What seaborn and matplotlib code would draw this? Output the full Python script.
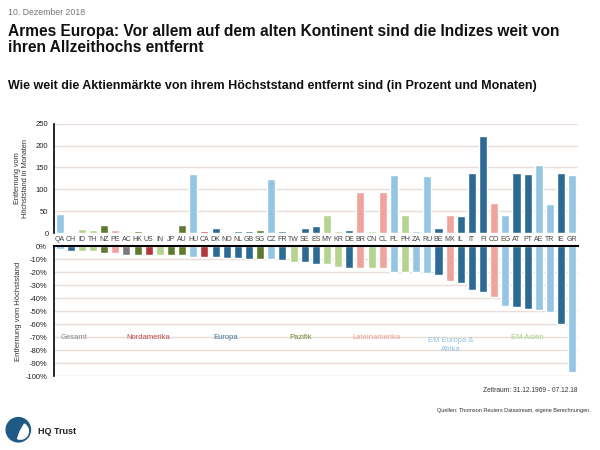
import numpy as np
import pandas as pd
import matplotlib
matplotlib.use("Agg")
import matplotlib.pyplot as plt
import seaborn as sns
from matplotlib.patches import Wedge, Circle

countries = ["QA", "CH", "ID", "TH", "NZ", "PE", "AC", "HK", "US", "IN", "JP", "AU",
             "HU", "CA", "DK", "NO", "NL", "GB", "SG", "CZ", "FR", "TW", "SE", "ES",
             "MY", "KR", "DE", "BR", "CN", "CL", "PL", "PH", "ZA", "RU", "BE", "MX",
             "IL", "IT", "FI", "CO", "EG", "AT", "PT", "AE", "TR", "IE", "GR"]
regions = ["EM Europa & Afrika", "Europa", "EM Asien", "EM Asien", "Pazifik", "Lateinamerika",
           "Gesamt", "Pazifik", "Nordamerika", "EM Asien", "Pazifik", "Pazifik",
           "EM Europa & Afrika", "Nordamerika", "Europa", "Europa", "Europa", "Europa",
           "Pazifik", "EM Europa & Afrika", "Europa", "EM Asien", "Europa", "Europa",
           "EM Asien", "EM Asien", "Europa", "Lateinamerika", "EM Asien", "Lateinamerika",
           "EM Europa & Afrika", "EM Asien", "EM Europa & Afrika", "EM Europa & Afrika",
           "Europa", "Lateinamerika", "Europa", "Europa", "Europa", "Lateinamerika",
           "EM Europa & Afrika", "Europa", "Europa", "EM Europa & Afrika",
           "EM Europa & Afrika", "Europa", "EM Europa & Afrika"]
months = [43, 2, 10, 7, 19, 6, 1, 5, 3, 3, 3, 19,
          136, 4, 12, 2, 4, 5, 6, 124, 4, 1, 12, 16,
          42, 4, 8, 94, 5, 94, 132, 42, 4, 131, 12, 42,
          39, 137, 223, 69, 42, 137, 136, 156, 67, 137, 132]
drawdown = [-2, -4, -4, -4, -5, -5, -7, -7, -7, -7, -7, -7,
            -8, -8, -8, -9, -9, -10, -10, -10, -11, -12, -12.5, -13.5,
            -14, -16, -16.5, -16.5, -17, -17, -20, -20, -20, -21, -22, -27,
            -28.5, -34, -35, -39, -46, -47, -48, -49, -51, -60, -96.5]

group_names = ["Gesamt", "Nordamerika", "Europa", "Pazifik", "Lateinamerika",
               "EM Europa & Afrika", "EM Asien"]
group_labels = ["Gesamt", "Nordamerika", "Europa", "Pazifik", "Lateinamerika",
                "EM Europa &\nAfrika", "EM Asien"]
group_label_x = [1.3, 8.0, 14.9, 21.6, 28.4, 35.1, 42.0]
bar_colors = ["#7a7a7a", "#b3383d", "#2d6a93", "#5d7a2e", "#f0a29c", "#94c5e2", "#b5d48f"]
text_colors = ["#8a8a8a", "#c0474c", "#3a74a0", "#6b8a32", "#ee9d97", "#8fc1e0", "#a9cf82"]

df = pd.DataFrame({"land": countries, "region": regions,
                   "monate": months, "abstand": drawdown})
palette = dict(zip(group_names, bar_colors))

sns.set_style("white")
plt.rcParams["font.family"] = ["Liberation Sans", "DejaVu Sans"]

fig = plt.figure(figsize=(6, 4.5), dpi=100)
ax1 = fig.add_axes([0.09, 0.482, 0.873, 0.243])
ax2 = fig.add_axes([0.09, 0.164, 0.873, 0.289])

grid_c = "#eadfd8"

# Monate seit Hoechststand
sns.barplot(data=df, x="land", y="monate", hue="region", palette=palette, order=countries,
            dodge=False, width=0.72, legend=False, ax=ax1, saturation=1)
ax1.set_ylim(0, 250)
ax1.set_yticks(range(0, 251, 50))
ax1.set_xlim(-0.5, len(countries) - 0.5)
ax1.yaxis.grid(True, color=grid_c, lw=1)
ax1.set_axisbelow(True)
ax1.set_xlabel("")
ax1.set_ylabel("Entfernung vom\nHöchststand in Monaten", fontsize=5.3, color="#333333",
               linespacing=1.1)
ax1.yaxis.set_label_coords(-0.048, 0.5)
ax1.tick_params(axis="x", length=0, pad=2, labelsize=5, labelcolor="#444444")
ax1.tick_params(axis="y", length=0, pad=4, labelsize=5.5, labelcolor="#222222")
for s in ["top", "right", "bottom"]:
    ax1.spines[s].set_visible(False)
ax1.spines["left"].set_color("black")
ax1.spines["left"].set_linewidth(1.2)

# Prozent vom Hoechststand
sns.barplot(data=df, x="land", y="abstand", hue="region", palette=palette, order=countries,
            dodge=False, width=0.72, legend=False, ax=ax2, saturation=1)
ax2.set_ylim(-100, 0)
ax2.set_yticks(range(-100, 1, 10))
ax2.set_yticklabels([f"{v}%" for v in range(-100, 1, 10)])
ax2.set_xlim(-0.5, len(countries) - 0.5)
ax2.yaxis.grid(True, color=grid_c, lw=1)
ax2.set_axisbelow(True)
ax2.set_xlabel("")
ax2.set_xticks([])
ax2.set_ylabel("Entfernung vom Höchststand", fontsize=5.5, color="#333333")
ax2.yaxis.set_label_coords(-0.062, 0.5)
ax2.tick_params(axis="y", length=0, pad=5, labelsize=5.5, labelcolor="#222222")
ax2.spines["right"].set_visible(False)
ax2.spines["bottom"].set_visible(False)
ax2.spines["top"].set_color("black")
ax2.spines["top"].set_linewidth(1.5)
ax2.spines["left"].set_color("black")
ax2.spines["left"].set_linewidth(1.2)

for lab, xpos, c in zip(group_labels, group_label_x, text_colors):
    ax2.text(xpos, -70, lab, ha="center", va="top" if "\n" in lab else "center",
             fontsize=5.5, color=c, linespacing=1.3)

# Kopf
fig.text(0.013, 0.972, "10. Dezember 2018", fontsize=6.3, color="#777777", va="center")
fig.text(0.013, 0.946, "Armes Europa: Vor allem auf dem alten Kontinent sind die Indizes weit von\n"
         "ihren Allzeithochs entfernt", fontsize=11.2, fontweight="bold", va="top",
         color="#111111", linespacing=1.05)
fig.text(0.013, 0.808, "Wie weit die Aktienmärkte von ihrem Höchststand entfernt sind (in Prozent und Monaten)",
         fontsize=9, fontweight="bold", va="center", color="#111111")

# Fuss
fig.text(0.963, 0.133, "Zeitraum: 31.12.1969 - 07.12.18", fontsize=4.8, ha="right", va="center", color="#333333")
fig.text(0.985, 0.088, "Quellen: Thomson Reuters Datastream, eigene Berechnungen.", fontsize=4,
         ha="right", va="center", color="#333333")
fig.text(0.063, 0.04, "HQ Trust", fontsize=6.5, fontweight="bold", va="center", color="#222222")

logo = fig.add_axes([0.008, 0.015, 0.045, 0.06])
logo.set_xlim(-1, 1)
logo.set_ylim(-1, 1)
logo.set_aspect("equal")
logo.axis("off")
logo.add_patch(Circle((0, 0), 0.9, color="#1f5a86"))
logo.add_patch(Wedge((0.15, -0.1), 0.6, 250, 60, color="white"))

fig.savefig("out.png", dpi=100)
